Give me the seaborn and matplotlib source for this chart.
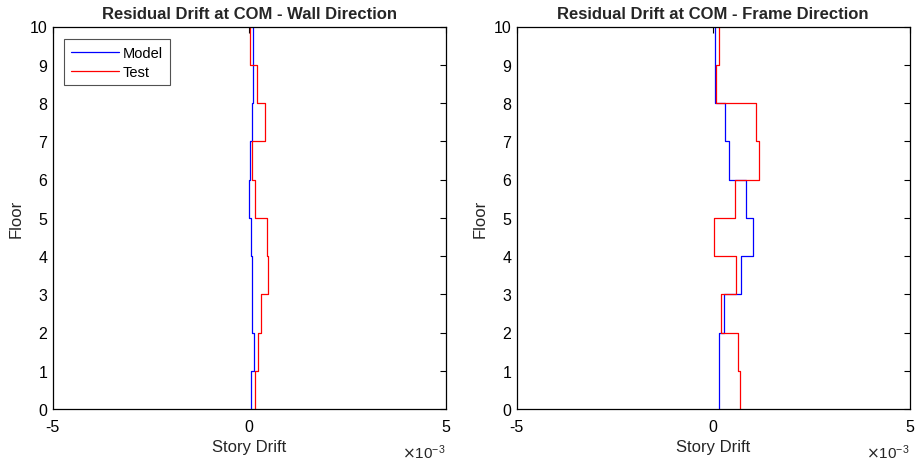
import numpy as np
import pandas as pd
import matplotlib
matplotlib.use("Agg")
import matplotlib.pyplot as plt
import seaborn as sns

floors = list(range(0, 11))
# drift per story (floor i to i+1), units of 1e-3
wall_model = [0.05, 0.12, 0.08, 0.06, 0.04, 0.00, 0.03, 0.08, 0.10, 0.09]
wall_test = [0.16, 0.23, 0.31, 0.49, 0.45, 0.14, 0.06, 0.41, 0.19, 0.03]
frame_model = [0.15, 0.15, 0.28, 0.70, 1.02, 0.84, 0.41, 0.30, 0.035, 0.035]
frame_test = [0.68, 0.64, 0.21, 0.58, 0.03, 0.56, 1.16, 1.08, 0.07, 0.145]

titles = ["Residual Drift at COM - Wall Direction", "Residual Drift at COM - Frame Direction"]
xticks = [-5, 0, 5]
yticks = list(range(0, 11))

sns.set_theme(style="white")
plt.rcParams['font.family'] = ['Liberation Sans', 'DejaVu Sans']


def stair_df(drift):
    d = np.asarray(drift) * 1e-3
    x = np.repeat(d, 2)
    y = np.repeat(np.asarray(floors, dtype=float), 2)[1:-1]
    return pd.DataFrame({"x": x, "y": y, "i": np.arange(len(x))})


fig = plt.figure(figsize=(9.16, 4.64), dpi=100)
W, H = 916, 464
axes = [fig.add_axes([52.7 / W, (H - 410) / H, 393 / W, 382.5 / H]),
        fig.add_axes([516.7 / W, (H - 410) / H, 393 / W, 382.5 / H])]

data = [(wall_model, wall_test), (frame_model, frame_test)]
for ax, (m, t), title in zip(axes, data, titles):
    dm = stair_df(m)
    dt = stair_df(t)
    sns.lineplot(data=dm, x="x", y="y", sort=False, estimator=None, color=(0, 0, 1),
                 lw=0.9, ax=ax, label="Model")
    sns.lineplot(data=dt, x="x", y="y", sort=False, estimator=None, color=(1, 0, 0),
                 lw=0.9, ax=ax, label="Test")
    ax.set_xlim(-5e-3, 5e-3)
    ax.set_ylim(0, 10)
    ax.set_xticks([v * 1e-3 for v in xticks])
    ax.set_xticklabels([str(v) for v in xticks])
    ax.set_yticks(yticks)
    ax.set_yticklabels([str(v) for v in yticks])
    ax.tick_params(direction="in", length=4, width=0.8, top=True, right=True,
                   labelsize=11.5, colors="black", pad=4)
    ax.tick_params(axis="x", pad=7)
    for s in ax.spines.values():
        s.set_color("black")
        s.set_linewidth(0.9)
    ax.set_title(title, fontsize=12, fontweight="bold", pad=6)
    ax.set_xlabel("Story Drift", fontsize=12, labelpad=4)
    ax.set_ylabel("Floor", fontsize=12, labelpad=4)
    ax.text(1.0, -0.088, r"$\times\mathregular{10^{-3}}$", transform=ax.transAxes,
            ha="right", va="top", fontsize=11)

leg = axes[0].legend(loc="upper left", bbox_to_anchor=(0.03, 0.967), fontsize=10.5,
                     frameon=True, fancybox=False, edgecolor="#262626",
                     handlelength=3.3, borderpad=0.45, labelspacing=0.35,
                     handletextpad=0.25, borderaxespad=0)
leg.get_frame().set_linewidth(0.8)
for txt in leg.get_texts():
    txt.set_color("black")
axes[1].get_legend().remove()

fig.savefig("out.png", dpi=100)
